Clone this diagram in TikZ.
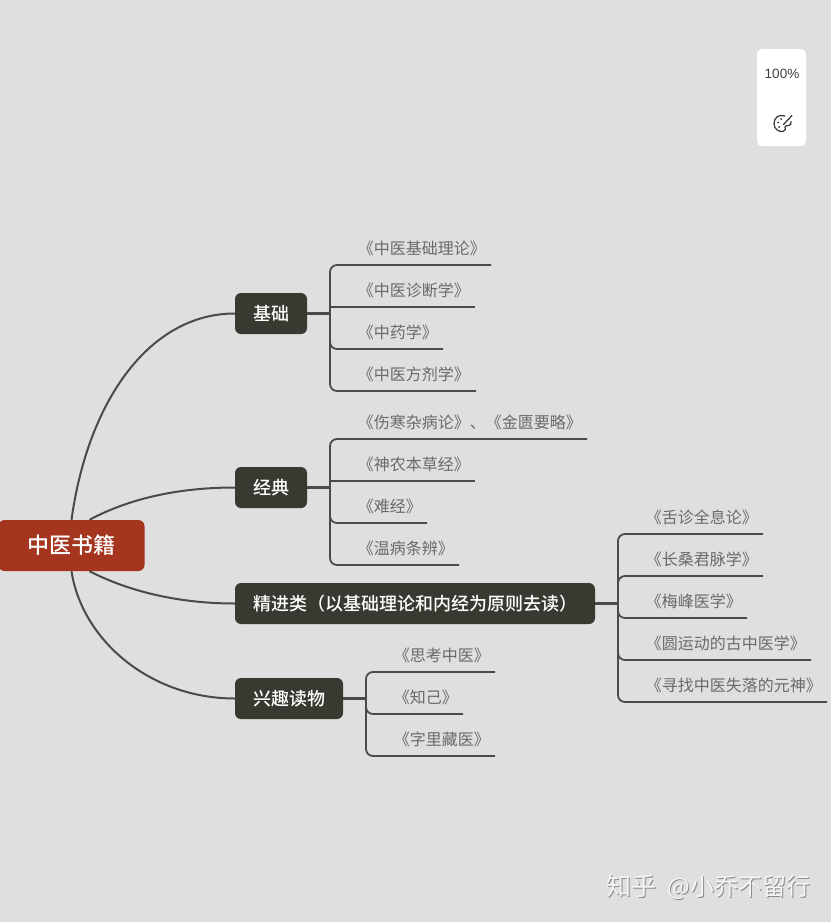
\documentclass[tikz,border=0pt]{standalone}
\usepackage{fontspec}
\setmainfont{Noto Sans CJK SC}
\newfontfamily\medfont{Noto Sans CJK SC Medium}
\newfontfamily\latinui{Liberation Sans}
\definecolor{bgc}{HTML}{DFDFDF}
\definecolor{rootc}{HTML}{A5351F}
\definecolor{topicc}{HTML}{393831}
\definecolor{linec}{HTML}{4A4A48}
\definecolor{leafc}{HTML}{6A6A6A}
\begin{document}
\begin{tikzpicture}[x=1pt,y=-1pt,
  rootbox/.style={fill=rootc,rounded corners=6pt,text=white,inner sep=0pt,minimum height=51pt,minimum width=146pt,font=\medfont\fontsize{22}{26}\selectfont},
  topicbox/.style={fill=topicc,rounded corners=6pt,text=white,inner sep=0pt,minimum height=41pt,font=\medfont\fontsize{18}{22}\selectfont},
  leaf/.style={anchor=south east,text width=#1,minimum height=32pt,inner sep=0pt,align=left,text=leafc,font=\fontsize{16}{20}\selectfont},
  bigline/.style={draw=linec,line width=2pt},
  exitline/.style={draw=linec,line width=2.6pt},
  leafline/.style={draw=linec,line width=1.8pt,rounded corners=7pt},
  markp/.style={font=\fontsize{25}{28}\selectfont}]
\useasboundingbox (0,0) rectangle (831,922);
\fill[bgc] (0,0) rectangle (831,922);
% root and topics
\node[rootbox] (root) at (71.5,545.5) {中医书籍};
\node[topicbox,minimum width=72pt] (t1) at (271,313.5) {基础};
\node[topicbox,minimum width=72pt] (t2) at (271,487.5) {经典};
\node[topicbox,minimum width=360pt] (t3) at (415,603.5) {精进类（以基础理论和内经为原则去读）};
\node[topicbox,minimum width=108pt] (t4) at (289,698.5) {兴趣读物};
% curves
\draw[bigline] (root.north) .. controls (88,400) and (150,313.5) .. (t1.west);
\draw[bigline] ([xshift=18pt]root.north) .. controls (130,498) and (180,487.5) .. (t2.west);
\draw[bigline] ([xshift=18pt]root.south) .. controls (130,592) and (180,603.5) .. (t3.west);
\draw[bigline] (root.south) .. controls (82,640) and (150,698.5) .. (t4.west);
% junctions
\coordinate (j1) at (330,313.5);
\coordinate (j2) at (330,487.5);
\coordinate (j3) at (618,603.5);
\coordinate (j4) at (366,698.5);
% leaves
\node[leaf=133pt] (a1) at (491,265) {《中医基础理论》};
\node[leaf=117pt] (a2) at (475,307) {《中医诊断学》};
\node[leaf=85pt]  (a3) at (443,349) {《中药学》};
\node[leaf=118pt] (a4) at (476,391) {《中医方剂学》};
\node[leaf=229pt] (b1) at (587,439) {《伤寒杂病论》、《金匮要略》};
\node[leaf=117pt] (b2) at (475,481) {《神农本草经》};
\node[leaf=69pt]  (b3) at (427,523) {《难经》};
\node[leaf=101pt] (b4) at (459,565) {《温病条辨》};
\node[leaf=117pt] (c1) at (763,534) {《舌诊全息论》};
\node[leaf=117pt] (c2) at (763,576) {《长桑君脉学》};
\node[leaf=101pt] (c3) at (747,618) {《梅峰医学》};
\node[leaf=165pt] (c4) at (811,660) {《圆运动的古中医学》};
\node[leaf=181pt] (c5) at (827,702) {《寻找中医失落的元神》};
\node[leaf=101pt] (d1) at (495,672) {《思考中医》};
\node[leaf=69pt]  (d2) at (463,714) {《知己》};
\node[leaf=101pt] (d3) at (495,756) {《字里藏医》};
% connectors
\foreach \t/\j in {t1/j1,t2/j2,t3/j3,t4/j4} \draw[exitline] (\t.east) -- (\j);
\foreach \l in {a1,a3,a4} \draw[leafline] (j1) |- (\l.south east);
\draw[leafline,sharp corners] (j1) |- (a2.south east);
\foreach \l in {b1,b3,b4} \draw[leafline] (j2) |- (\l.south east);
\draw[leafline,sharp corners] (j2) |- (b2.south east);
\foreach \l in {c1,c2,c3,c4,c5} \draw[leafline] (j3) |- (\l.south east);
\foreach \l in {d1,d2,d3} \draw[leafline] (j4) |- (\l.south east);
% zoom panel
\fill[white,rounded corners=5pt] (757,49) rectangle (806,146);
\node[inner sep=0pt,text=black!75,font=\latinui\fontsize{13.5}{16}\selectfont] (zoomtext) at (782,73.5) {100\%};
% palette icon
\begin{scope}[yshift=-1.5pt,draw=black!80,line width=1.2pt,line cap=round,line join=round]
\draw (785,114.5) .. controls (779,112.5) and (774,116) .. (774,122)
  .. controls (774,127) and (778,130.5) .. (783,130)
  .. controls (786,129.5) and (785.5,127) .. (785,125.5)
  .. controls (785,124) and (787,124) .. (788.5,124)
  .. controls (790.5,124) and (791.5,122.5) .. (791,120);
\draw (783.5,123) -- (792,114);
\fill[black!80] (778,121) circle (1pt) (781,117.5) circle (1pt) (779,125.5) circle (1pt);
\end{scope}
% watermark
\node[anchor=west,inner sep=0pt,markp,text=black!45] (markshadow) at (607,888.5) {知乎\hspace{0.45em}{\fontsize{24}{28}\selectfont @小乔不留行}};
\node[anchor=west,inner sep=0pt,markp,text=white!96!black] (mark) at (606,887) {知乎\hspace{0.45em}{\fontsize{24}{28}\selectfont @小乔不留行}};
\end{tikzpicture}
\end{document}
